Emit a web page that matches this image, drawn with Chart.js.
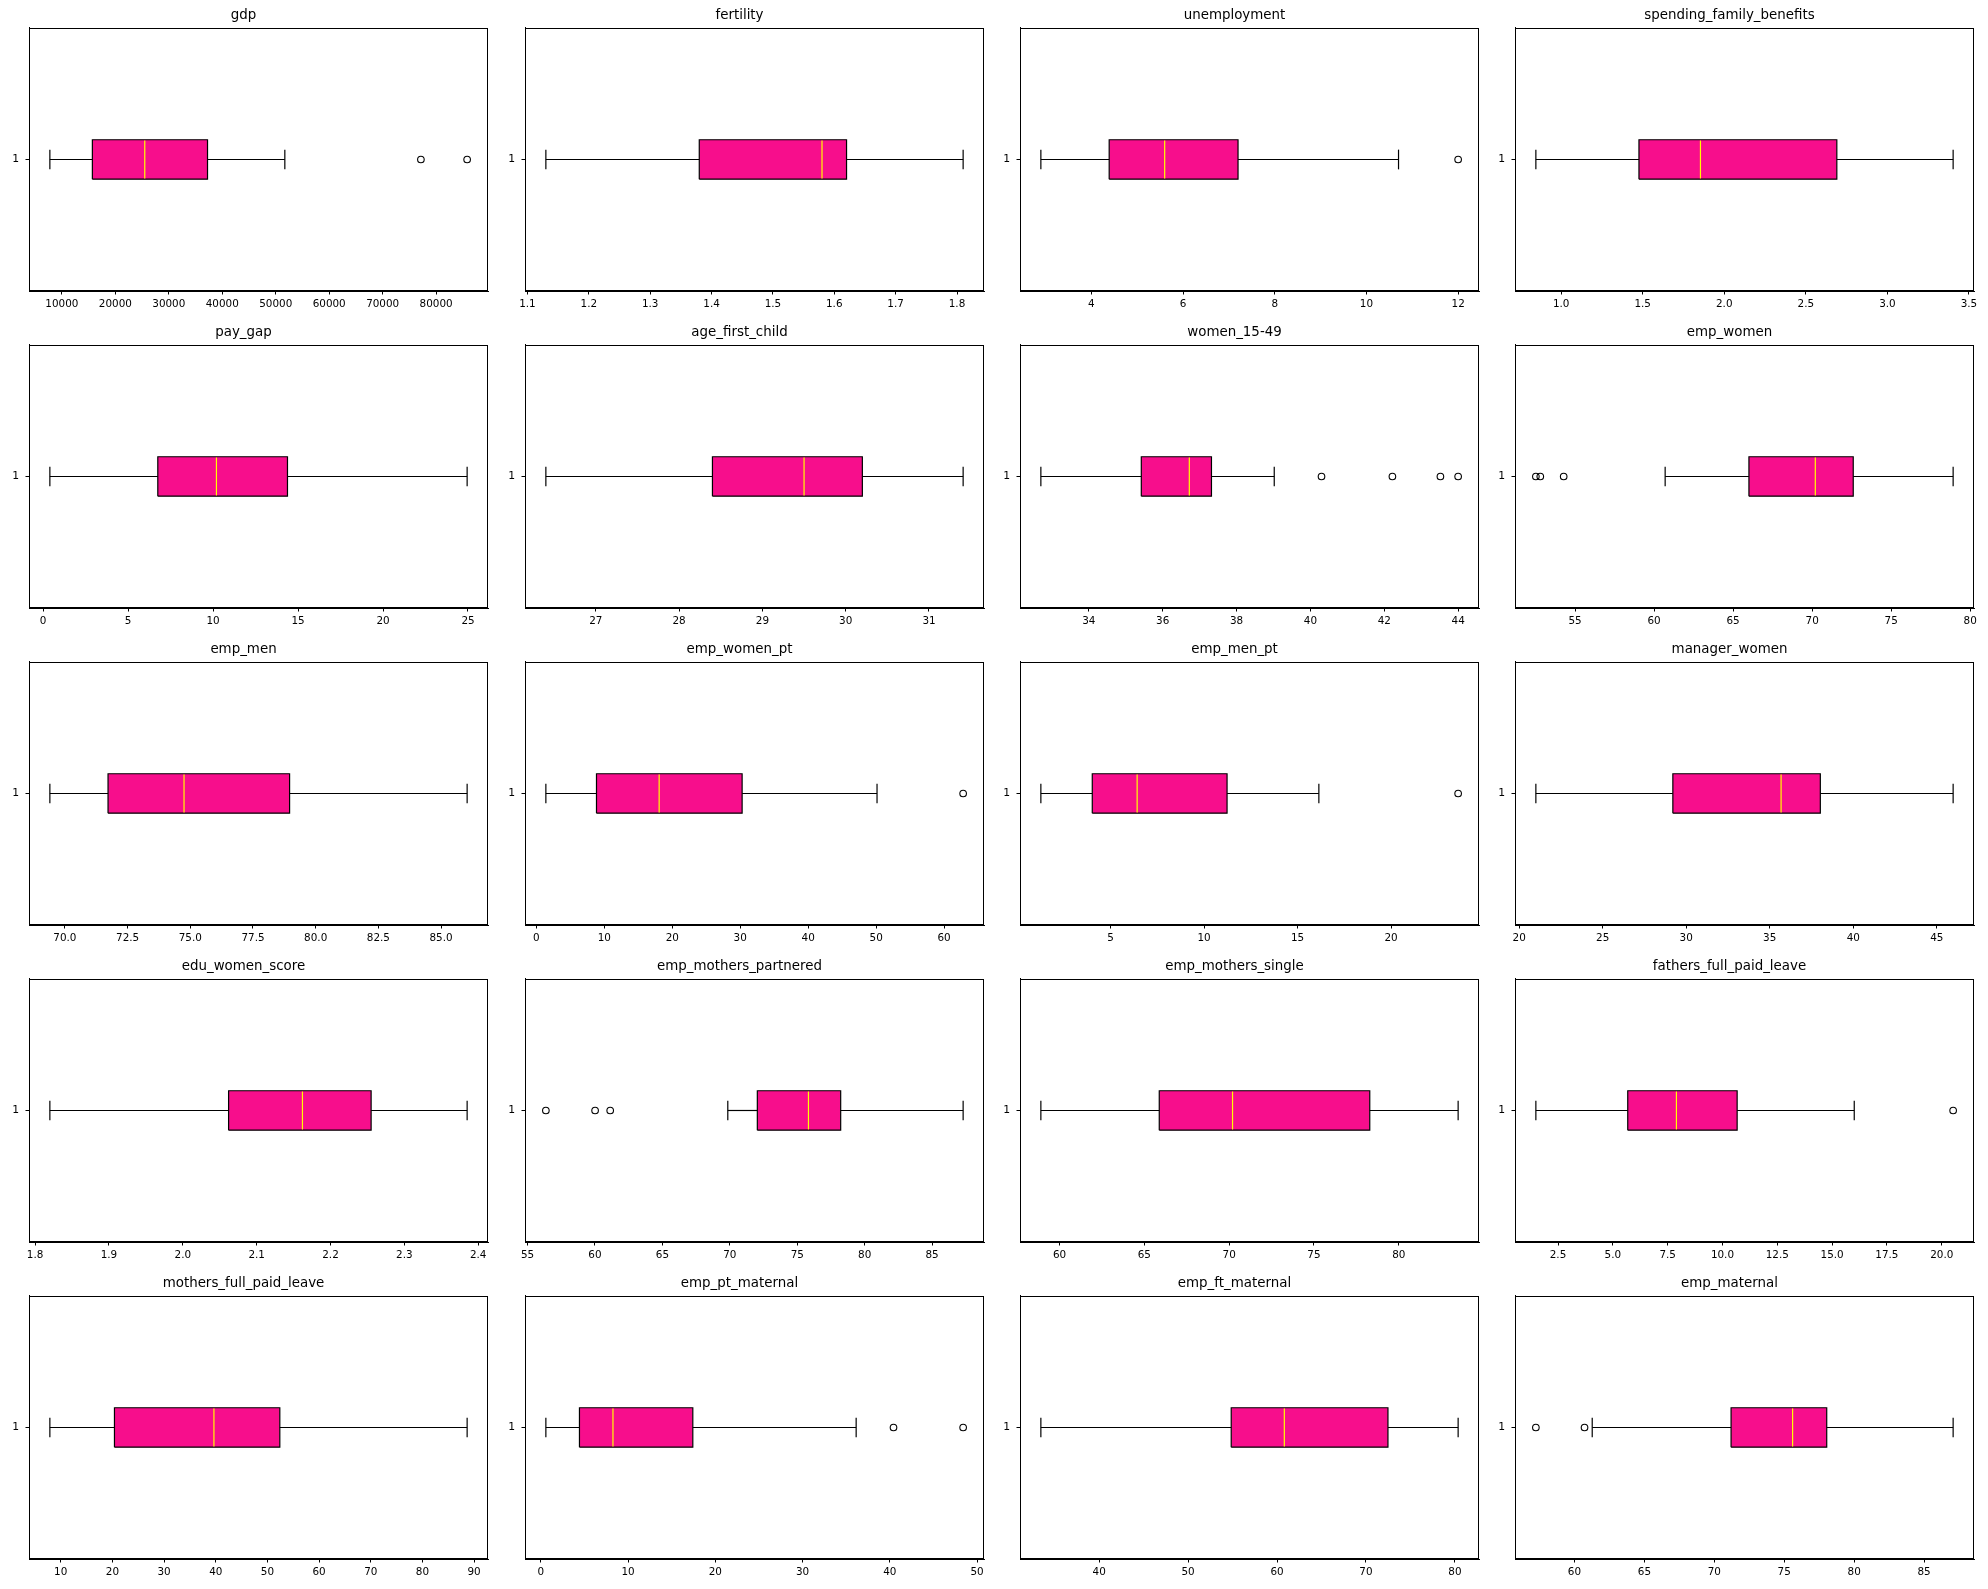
<!DOCTYPE html>
<html>
<head>
<meta charset="utf-8">
<script src="https://cdn.jsdelivr.net/npm/chart.js@4.4.1/dist/chart.umd.min.js"></script>
<style>
  html, body { margin: 0; padding: 0; background: #fff; }
  #fig { position: relative; width: 1988px; height: 1589px; background: #fff; overflow: hidden; }
  #fig canvas { position: absolute; }
</style>
</head>
<body>
<div id="fig"></div>
<script>
// ---------------- DATA ----------------
const titles = ['gdp','fertility','unemployment','spending_family_benefits',
  'pay_gap','age_first_child','women_15-49','emp_women',
  'emp_men','emp_women_pt','emp_men_pt','manager_women',
  'edu_women_score','emp_mothers_partnered','emp_mothers_single','fathers_full_paid_leave',
  'mothers_full_paid_leave','emp_pt_maternal','emp_ft_maternal','emp_maternal'];

const lowWhisker  = [7750, 1.13, 2.9, 0.845, 0.4, 26.4, 32.7, 60.7, 69.4, 1.4, 1.27, 21.0, 1.82, 69.85, 58.9, 1.49, 7.9, 0.58, 33.45, 61.27];
const q1          = [15700, 1.38, 4.39, 1.477, 6.75, 28.4, 35.42, 66.0, 71.72, 8.85, 4.02, 29.2, 2.062, 72.04, 65.88, 5.68, 20.4, 4.43, 54.85, 71.2];
const median      = [25500, 1.58, 5.6, 1.854, 10.2, 29.5, 36.72, 70.2, 74.75, 18.07, 6.42, 35.68, 2.162, 75.83, 70.2, 7.9, 39.65, 8.27, 60.82, 75.6];
const q3          = [37240, 1.62, 7.2, 2.69, 14.38, 30.2, 37.32, 72.6, 78.96, 30.28, 11.23, 38.03, 2.255, 78.22, 78.29, 10.67, 52.4, 17.42, 72.47, 78.04];
const highWhisker = [51700, 1.81, 10.7, 3.403, 24.95, 31.41, 39.02, 78.92, 86.04, 50.13, 16.14, 45.98, 2.385, 87.3, 83.5, 16.01, 88.65, 36.14, 80.36, 87.08];
const outliers = [[77150, 85800], [], [12.0], [],
  [], [], [40.3, 42.22, 43.52, 44.0], [52.52, 52.8, 54.28],
  [], [62.8], [23.59], [],
  [], [56.36, 60.01, 61.13], [], [20.52],
  [], [40.42, 48.4], [], [57.24, 60.72]];

const xTickLabels = [
  ['10000','20000','30000','40000','50000','60000','70000','80000'],
  ['1.1','1.2','1.3','1.4','1.5','1.6','1.7','1.8'],
  ['4','6','8','10','12'],
  ['1.0','1.5','2.0','2.5','3.0','3.5'],
  ['0','5','10','15','20','25'],
  ['27','28','29','30','31'],
  ['34','36','38','40','42','44'],
  ['55','60','65','70','75','80'],
  ['70.0','72.5','75.0','77.5','80.0','82.5','85.0'],
  ['0','10','20','30','40','50','60'],
  ['5','10','15','20'],
  ['20','25','30','35','40','45'],
  ['1.8','1.9','2.0','2.1','2.2','2.3','2.4'],
  ['55','60','65','70','75','80','85'],
  ['60','65','70','75','80'],
  ['2.5','5.0','7.5','10.0','12.5','15.0','17.5','20.0'],
  ['10','20','30','40','50','60','70','80','90'],
  ['0','10','20','30','40','50'],
  ['40','50','60','70','80'],
  ['60','65','70','75','80','85']
];
const yTickLabels = ['1'];
const boxPosition = 1;

// ---------------- LAYOUT / STYLE ----------------
const PINK = 'rgb(247,14,140)';
const Y_W = 30, PAD_R = 30, TOP_H = 28, X_H = 32;
const PLOT_W = 459, PLOT_H = 263;
const colLeft = c => 29.2 + 495.3 * c;
const rowTop = r => 28.3 + 316.9 * r;
const BOX_HALF = 0.075, CAP_HALF = 0.0375;
const FONT = 'DejaVu Sans';
const LW = 1.2;

const framePlugin = {
  id: 'frame',
  afterDraw(chart) {
    const {ctx, chartArea: a} = chart;
    ctx.save();
    ctx.strokeStyle = '#000';
    ctx.lineWidth = 1;
    const l = Math.round(a.left) + 0.5, t = Math.round(a.top) + 0.5;
    const r = Math.round(a.right) - 0.5, b = Math.round(a.bottom) - 0.5;
    ctx.strokeRect(l, t, r - l, b - t);
    ctx.restore();
  }
};

const fig = document.getElementById('fig');

titles.forEach((title, i) => {
  const r = Math.floor(i / 4), c = i % 4;
  const canvas = document.createElement('canvas');
  const w = Y_W + PLOT_W + PAD_R, h = TOP_H + PLOT_H + X_H;
  canvas.width = w; canvas.height = h;
  canvas.style.width = w + 'px'; canvas.style.height = h + 'px';
  canvas.style.left = (Math.round(colLeft(c)) - Y_W) + 'px';
  canvas.style.top = (Math.round(rowTop(r)) - TOP_H) + 'px';
  fig.appendChild(canvas);

  const y = boxPosition;
  const all = [lowWhisker[i], highWhisker[i], ...outliers[i]];
  const dmin = Math.min(...all), dmax = Math.max(...all);
  const margin = (dmax - dmin) * 0.05;
  const ticks = xTickLabels[i];

  const line = (pts, color, order) => ({
    data: pts, borderColor: color, borderWidth: LW, pointRadius: 0,
    fill: false, tension: 0, showLine: true, order
  });

  // higher "order" is drawn first (underneath)
  const datasets = [
    { // box face
      data: [{x: q1[i], y: y + BOX_HALF}, {x: q3[i], y: y + BOX_HALF}],
      borderColor: 'rgba(0,0,0,0)', borderWidth: 0, pointRadius: 0,
      backgroundColor: PINK, fill: {value: y - BOX_HALF}, tension: 0, order: 10
    },
    line([{x: q1[i], y: y - BOX_HALF}, {x: q3[i], y: y - BOX_HALF}, {x: q3[i], y: y + BOX_HALF},
          {x: q1[i], y: y + BOX_HALF}, {x: q1[i], y: y - BOX_HALF}], '#000', 9),
    line([{x: lowWhisker[i], y: y}, {x: q1[i], y: y}], '#000', 8),
    line([{x: q3[i], y: y}, {x: highWhisker[i], y: y}], '#000', 7),
    line([{x: lowWhisker[i], y: y - CAP_HALF}, {x: lowWhisker[i], y: y + CAP_HALF}], '#000', 6),
    line([{x: highWhisker[i], y: y - CAP_HALF}, {x: highWhisker[i], y: y + CAP_HALF}], '#000', 5),
    line([{x: median[i], y: y - BOX_HALF + 0.003}, {x: median[i], y: y + BOX_HALF - 0.003}], '#ffff00', 4),
    {
      data: outliers[i].map(v => ({x: v, y: y})),
      showLine: false, pointRadius: 3.3, pointBorderWidth: 1.1,
      pointBorderColor: '#000', pointBackgroundColor: 'rgba(0,0,0,0)', fill: false, order: 3
    }
  ];

  new Chart(canvas, {
    type: 'line',
    data: { datasets },
    plugins: [framePlugin],
    options: {
      responsive: false, animation: false, devicePixelRatio: 1, events: [],
      layout: { padding: { left: 0, right: PAD_R, top: 0, bottom: 0 } },
      plugins: {
        legend: { display: false },
        tooltip: { enabled: false },
        title: {
          display: true, text: title, color: '#000',
          font: { family: FONT, size: 13.4, weight: 'normal', lineHeight: 1.2 },
          padding: { top: 7.5, bottom: 4.4 }
        }
      },
      scales: {
        x: {
          type: 'linear', min: dmin - margin, max: dmax + margin,
          afterBuildTicks: s => { s.ticks = ticks.map(t => ({ value: parseFloat(t) })); },
          afterFit: s => { s.height = X_H; },
          ticks: {
            callback: (v, idx) => ticks[idx], autoSkip: false, maxRotation: 0,
            color: '#000', font: { family: FONT, size: 10.4 }, padding: 4
          },
          grid: { display: true, drawOnChartArea: false, drawTicks: true, tickLength: 3.5, tickColor: '#000', tickWidth: 1 },
          border: { display: true, color: '#000', width: 1 }
        },
        y: {
          type: 'linear', min: 0.5, max: 1.5,
          afterBuildTicks: s => { s.ticks = yTickLabels.map(t => ({ value: parseFloat(t) })); },
          afterFit: s => { s.width = Y_W; },
          ticks: {
            callback: (v, idx) => yTickLabels[idx], autoSkip: false,
            color: '#000', font: { family: FONT, size: 10.8 }, padding: 6.5
          },
          grid: { display: true, drawOnChartArea: false, drawTicks: true, tickLength: 3.5, tickColor: '#000', tickWidth: 1 },
          border: { display: true, color: '#000', width: 1 }
        }
      }
    }
  });
});
</script>
</body>
</html>
